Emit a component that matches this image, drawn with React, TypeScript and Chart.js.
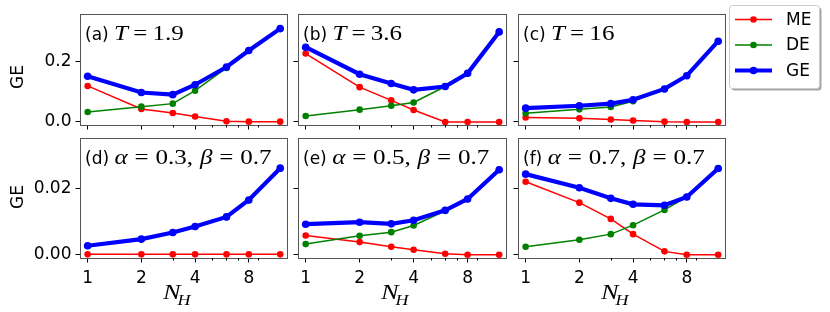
import React, { useEffect, useRef } from 'react';
import { Chart, registerables } from 'chart.js';
Chart.register(...registerables);

// ---- data ----
const nH = [1, 2, 3, 4, 6, 8, 12];
const xTickValues = [1, 2, 4, 8];
const xMinorValues = [3, 5, 6, 7, 9];
const yTicksTop = [0, 0.2];
const yTicksBottom = [0, 0.02];
const seriesNames = ['ME', 'DE', 'GE'];

const meA = [0.120, 0.043, 0.030, 0.018, 0.002, 0.001, 0.001];
const deA = [0.033, 0.051, 0.061, 0.104, 0.180, 0.237, 0.310];
const geA = [0.152, 0.098, 0.091, 0.124, 0.183, 0.238, 0.311];

const meB = [0.228, 0.116, 0.072, 0.040, 0.000, 0.000, 0.000];
const deB = [0.020, 0.041, 0.054, 0.065, 0.118, 0.162, 0.300];
const geB = [0.249, 0.159, 0.128, 0.107, 0.118, 0.162, 0.300];

const meC = [0.015, 0.012, 0.008, 0.005, 0.001, 0.000, 0.000];
const deC = [0.029, 0.042, 0.050, 0.069, 0.110, 0.154, 0.269];
const geC = [0.046, 0.054, 0.061, 0.074, 0.110, 0.154, 0.269];

const meD = [0.0001, 0.0001, 0.0001, 0.0001, 0.0001, 0.0001, 0.0001];
const deD = [0.0026, 0.0046, 0.0066, 0.0084, 0.0113, 0.0164, 0.0260];
const geD = [0.0027, 0.0047, 0.0067, 0.0085, 0.0114, 0.0165, 0.0261];

const meE = [0.0058, 0.0038, 0.0024, 0.0015, 0.0003, 0.0000, 0.0000];
const deE = [0.0032, 0.0057, 0.0068, 0.0088, 0.0132, 0.0168, 0.0256];
const geE = [0.0092, 0.0098, 0.0093, 0.0104, 0.0134, 0.0168, 0.0256];

const meF = [0.0220, 0.0157, 0.0108, 0.0062, 0.0010, 0.0000, 0.0000];
const deF = [0.0024, 0.0045, 0.0062, 0.0089, 0.0135, 0.0174, 0.0260];
const geF = [0.0243, 0.0202, 0.0170, 0.0152, 0.0149, 0.0174, 0.0260];

const panelLetters = ['a', 'b', 'c', 'd', 'e', 'f'];
const tValues = ['1.9', '3.6', '16'];
const alphaValues = ['0.3', '0.5', '0.7'];
const betaValue = '0.7';

// ---- layout / style ----
const W = 830;
const H = 312;
const COLS = [{ l: 80, r: 287 }, { l: 298, r: 506 }, { l: 518, r: 725 }];
const ROWS = [{ t: 5, b: 125, min: -0.0102, max: 0.359 }, { t: 138, b: 258, min: -0.001, max: 0.0352 }];
const XMIN = 0.906;
const XMAX = 13.1;
const COLORS = ['#ff0000', '#008000', '#0000ff'];
const SANS = '"DejaVu Sans", sans-serif';
const SERIF = '"Liberation Serif", serif';
const MATH = `22px ${SERIF}`;
const MATHI = `italic 22px ${SERIF}`;

// [text, font, gapAfter]
type Run = [string, string, number];

function titleRuns(idx: number): Run[] {
  const head: Run = [`(${panelLetters[idx]}) `, `17px ${SANS}`, 0];
  if (idx < 3) {
    return [head, ['T', MATHI, 4.5], ['=', MATH, 4.5], [tValues[idx], MATH, 0]];
  }
  return [
    head,
    ['α', MATHI, 6], ['=', MATH, 6], [alphaValues[idx - 3] + ',', MATH, 6],
    ['β', MATHI, 6], ['=', MATH, 6], [betaValue, MATH, 0],
  ];
}

function drawRuns(ctx: CanvasRenderingContext2D, x: number, y: number, runs: Run[], mathScale: number) {
  let cx = x;
  runs.forEach(([t, f, gap], i) => {
    ctx.font = f;
    const sx = i === 0 ? 1 : mathScale;
    ctx.save();
    ctx.translate(cx, y);
    ctx.scale(sx, 1);
    ctx.fillText(t, 0, 0);
    ctx.restore();
    cx += (ctx.measureText(t).width + gap) * sx;
  });
}

function makeConfig(idx: number) {
  const col = COLS[idx % 3];
  const rowI = Math.floor(idx / 3);
  const row = ROWS[rowI];
  const showY = idx % 3 === 0;
  const showX = rowI === 1;
  const yTicks = rowI === 0 ? yTicksTop : yTicksBottom;
  const yDigits = rowI === 0 ? 1 : 2;
  const all = [
    [meA, deA, geA], [meB, deB, geB], [meC, deC, geC],
    [meD, deD, geD], [meE, deE, geE], [meF, deF, geF],
  ];
  const series = all[idx];

  const datasets = series.map((arr, si) => ({
    label: seriesNames[si],
    data: nH.map((x, i) => ({ x, y: arr[i] })),
    borderColor: COLORS[si],
    backgroundColor: COLORS[si],
    borderWidth: si === 2 ? 4.2 : 1.5,
    pointRadius: si === 2 ? 3.8 : 3.3,
    pointBorderWidth: 0,
    pointBackgroundColor: COLORS[si],
    order: 3 - si,
    clip: false as any,
  }));

  const overlay = {
    id: 'overlay' + idx,
    afterDraw(chart: any) {
      const ctx: CanvasRenderingContext2D = chart.ctx;
      const a = chart.chartArea;
      const xs = chart.scales.x;
      ctx.save();
      // frame
      ctx.strokeStyle = '#555';
      ctx.lineWidth = 1;
      ctx.strokeRect(Math.round(a.left) + 0.5, Math.round(a.top) + 0.5, Math.round(a.right - a.left), Math.round(a.bottom - a.top));
      // minor ticks
      ctx.strokeStyle = '#000';
      for (const v of xMinorValues) {
        const px = Math.round(xs.getPixelForValue(v)) + 0.5;
        ctx.beginPath();
        ctx.moveTo(px, a.bottom);
        ctx.lineTo(px, a.bottom + 2.5);
        ctx.stroke();
      }
      // title
      ctx.fillStyle = '#000';
      ctx.textBaseline = 'alphabetic';
      ctx.textAlign = 'left';
      drawRuns(ctx, a.left + 5, a.top + 26, titleRuns(idx), 1.14);
      // y label
      if (showY) {
        ctx.save();
        ctx.font = `17px ${SANS}`;
        ctx.translate(23, rowI === 0 ? 77 : 197);
        ctx.rotate(-Math.PI / 2);
        ctx.textAlign = 'center';
        ctx.fillText('GE', 0, 0);
        ctx.restore();
      }
      // x label
      if (showX) {
        const x0 = a.left + 83;
        ctx.save();
        ctx.translate(x0, 299);
        ctx.scale(1.2, 1);
        ctx.font = `italic 22px ${SERIF}`;
        ctx.fillText('N', 0, 0);
        const w = ctx.measureText('N').width;
        ctx.font = `italic 15px ${SERIF}`;
        ctx.fillText('H', w - 2.5, 6);
        ctx.restore();
      }
      // legend
      if (idx === 2) {
        const bx = 729.5, by = 5.5, bw = 90, bh = 83;
        ctx.fillStyle = 'rgba(0,0,0,0.35)';
        ctx.beginPath();
        (ctx as any).roundRect(bx + 2, by + 2, bw, bh, 3);
        ctx.fill();
        ctx.fillStyle = '#fff';
        ctx.strokeStyle = '#cccccc';
        ctx.beginPath();
        (ctx as any).roundRect(bx, by, bw, bh, 3);
        ctx.fill();
        ctx.stroke();
        const rowsY = [19.5, 45, 70.5];
        seriesNames.forEach((name, si) => {
          const y = rowsY[si];
          ctx.strokeStyle = COLORS[si];
          ctx.lineWidth = si === 2 ? 4.2 : 1.5;
          ctx.beginPath();
          ctx.moveTo(735, y);
          ctx.lineTo(772, y);
          ctx.stroke();
          ctx.fillStyle = COLORS[si];
          ctx.beginPath();
          ctx.arc(753.5, y, si === 2 ? 3.8 : 3.3, 0, Math.PI * 2);
          ctx.fill();
          ctx.fillStyle = '#000';
          ctx.font = `17px ${SANS}`;
          ctx.textBaseline = 'middle';
          ctx.fillText(name, 786, y + 1);
        });
      }
      ctx.restore();
    },
  };

  return {
    type: 'line' as const,
    data: { datasets },
    options: {
      responsive: false,
      animation: false as const,
      events: [] as any[],
      layout: { padding: { left: 0, top: row.t, right: W - col.r, bottom: 0 } },
      plugins: { legend: { display: false }, tooltip: { enabled: false }, title: { display: false } },
      scales: {
        x: {
          type: 'logarithmic' as const,
          min: XMIN,
          max: XMAX,
          afterBuildTicks: (s: any) => { s.ticks = xTickValues.map((v) => ({ value: v })); },
          afterFit: (s: any) => { s.height = H - row.b; },
          ticks: {
            callback: (v: any) => (showX ? String(v) : ''),
            font: { family: SANS, size: 17 },
            color: '#000',
            padding: 6,
            maxRotation: 0,
            autoSkip: false,
          },
          grid: { display: true, drawOnChartArea: false, drawTicks: true, tickLength: 4.5, color: '#000', lineWidth: 1 },
          border: { display: false },
        },
        y: {
          type: 'linear' as const,
          min: row.min,
          max: row.max,
          afterBuildTicks: (s: any) => { s.ticks = yTicks.map((v) => ({ value: v })); },
          afterFit: (s: any) => { s.width = col.l; },
          ticks: {
            callback: (v: any) => (showY ? Number(v).toFixed(yDigits) : ''),
            font: { family: SANS, size: 17 },
            color: '#000',
            padding: 4,
          },
          grid: { display: true, drawOnChartArea: false, drawTicks: true, tickLength: 4.5, color: '#000', lineWidth: 1 },
          border: { display: false },
        },
      },
    },
    plugins: [overlay],
  };
}

function Panel({ idx }: { idx: number }) {
  const ref = useRef<HTMLCanvasElement>(null);
  useEffect(() => {
    if (!ref.current) return;
    const chart = new Chart(ref.current, makeConfig(idx) as any);
    return () => chart.destroy();
  }, [idx]);
  return (
    <canvas
      ref={ref}
      width={W}
      height={H}
      style={{ position: 'absolute', left: 0, top: 0, width: W, height: H }}
    />
  );
}

export default function App() {
  return (
    <div style={{ position: 'fixed', left: 0, top: 0, width: W, height: H, background: '#fff', overflow: 'hidden' }}>
      {[0, 1, 2, 3, 4, 5].map((i) => (
        <Panel key={i} idx={i} />
      ))}
    </div>
  );
}
